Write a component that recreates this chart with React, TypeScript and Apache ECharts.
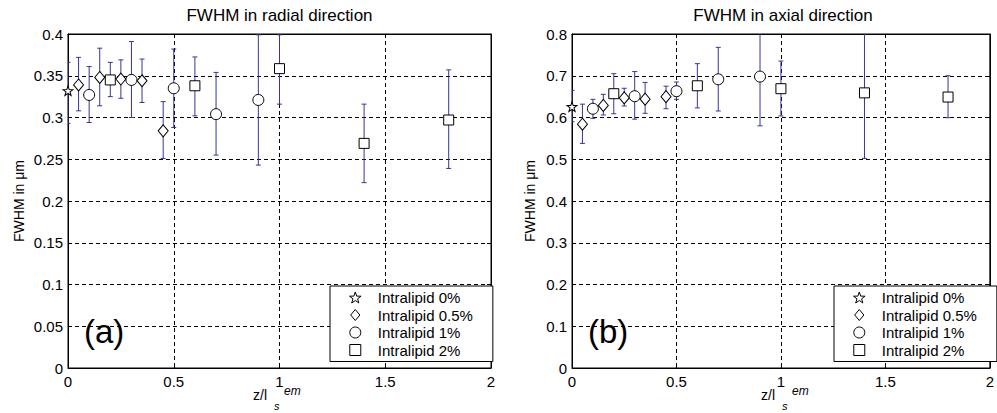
import React, { useEffect, useRef } from "react";
import * as echarts from "echarts";

// ---------- data ----------
const groupNames = ["Intralipid 0%", "Intralipid 0.5%", "Intralipid 1%", "Intralipid 2%"];
const xTickInterval = 0.5;
const radialYInterval = 0.05;
const axialYInterval = 0.1;

// FWHM in radial direction (panel a)
const rad0X = [0];
const rad0Y = [0.332];
const rad0Lo = [0.293];
const rad0Hi = [0.366];

const rad05X = [0.05, 0.15, 0.25, 0.35, 0.45];
const rad05Y = [0.339, 0.348, 0.346, 0.344, 0.284];
const rad05Lo = [0.308, 0.314, 0.323, 0.318, 0.251];
const rad05Hi = [0.372, 0.383, 0.369, 0.370, 0.319];

const rad1X = [0.1, 0.3, 0.5, 0.7, 0.9];
const rad1Y = [0.327, 0.345, 0.335, 0.304, 0.321];
const rad1Lo = [0.294, 0.3, 0.288, 0.255, 0.243];
const rad1Hi = [0.361, 0.391, 0.382, 0.354, 0.399];

const rad2X = [0.2, 0.6, 1.0, 1.4, 1.8];
const rad2Y = [0.345, 0.338, 0.3585, 0.269, 0.297];
const rad2Lo = [0.325, 0.302, 0.316, 0.222, 0.239];
const rad2Hi = [0.366, 0.3725, 0.399, 0.316, 0.357];

// FWHM in axial direction (panel b)
const ax0X = [0];
const ax0Y = [0.626];
const ax0Lo = [0.59];
const ax0Hi = [0.665];

const ax05X = [0.05, 0.15, 0.25, 0.35, 0.45];
const ax05Y = [0.584, 0.629, 0.647, 0.644, 0.65];
const ax05Lo = [0.538, 0.606, 0.6275, 0.61, 0.621];
const ax05Hi = [0.632, 0.6555, 0.67, 0.684, 0.675];

const ax1X = [0.1, 0.3, 0.5, 0.7, 0.9];
const ax1Y = [0.621, 0.651, 0.663, 0.6915, 0.698];
const ax1Lo = [0.598, 0.596, 0.6435, 0.6156, 0.58];
const ax1Hi = [0.6435, 0.71, 0.685, 0.768, 0.83];

const ax2X = [0.2, 0.6, 1.0, 1.4, 1.8];
const ax2Y = [0.657, 0.676, 0.669, 0.659, 0.649];
const ax2Lo = [0.609, 0.623, 0.6036, 0.502, 0.5995];
const ax2Hi = [0.705, 0.729, 0.7353, 0.82, 0.7];

// ---------- styling ----------
const FONT = "'Liberation Sans', Arial, sans-serif";
const ERR = "#36369c";

const starPts: string[] = [];
for (let k = 0; k < 10; k++) {
  const r = k % 2 === 0 ? 50 : 20;
  const a = -Math.PI / 2 + (k * Math.PI) / 5;
  starPts.push(`${(r * Math.cos(a)).toFixed(2)},${(r * Math.sin(a)).toFixed(2)}`);
}
const STAR = "path://M" + starPts.join("L") + "Z";
const DIAMOND = "path://M0,-12L10,0L0,12L-10,0Z";
const SQUARE = "path://M0,0L10,0L10,10L0,10Z";

const symbols = [STAR, DIAMOND, "circle", SQUARE];
const symbolSizes: any[] = [[10, 9.5], [10, 12], 11, 10];

type Group = { x: number[]; y: number[]; lo: number[]; hi: number[] };
const radialGroups: Group[] = [
  { x: rad0X, y: rad0Y, lo: rad0Lo, hi: rad0Hi },
  { x: rad05X, y: rad05Y, lo: rad05Lo, hi: rad05Hi },
  { x: rad1X, y: rad1Y, lo: rad1Lo, hi: rad1Hi },
  { x: rad2X, y: rad2Y, lo: rad2Lo, hi: rad2Hi },
];
const axialGroups: Group[] = [
  { x: ax0X, y: ax0Y, lo: ax0Lo, hi: ax0Hi },
  { x: ax05X, y: ax05Y, lo: ax05Lo, hi: ax05Hi },
  { x: ax1X, y: ax1Y, lo: ax1Lo, hi: ax1Hi },
  { x: ax2X, y: ax2Y, lo: ax2Lo, hi: ax2Hi },
];

function errRender(params: any, api: any) {
  const x = api.value(0);
  const lo = api.value(1);
  const hi = api.value(2);
  const top = api.coord([x, hi]);
  const bot = api.coord([x, lo]);
  const cw = 2.5;
  const st = { stroke: ERR, lineWidth: 1 };
  return {
    type: "group",
    children: [
      { type: "line", shape: { x1: top[0], y1: top[1], x2: bot[0], y2: bot[1] }, style: st },
      { type: "line", shape: { x1: top[0] - cw, y1: top[1], x2: top[0] + cw, y2: top[1] }, style: st },
      { type: "line", shape: { x1: bot[0] - cw, y1: bot[1], x2: bot[0] + cw, y2: bot[1] }, style: st },
    ],
  };
}

function buildSeries(groups: Group[], idx: number) {
  const out: any[] = [];
  groups.forEach((g, i) => {
    out.push({
      type: "custom",
      name: "err" + idx + "_" + i,
      xAxisIndex: idx,
      yAxisIndex: idx,
      renderItem: errRender,
      clip: true,
      z: 2,
      encode: { x: 0, y: [1, 2] },
      data: g.x.map((xv, j) => [xv, g.lo[j], g.hi[j]]),
      silent: true,
    });
  });
  groups.forEach((g, i) => {
    out.push({
      type: "scatter",
      name: groupNames[i],
      xAxisIndex: idx,
      yAxisIndex: idx,
      symbol: symbols[i],
      symbolSize: symbolSizes[i],
      z: 3,
      itemStyle: { color: "#ffffff", borderColor: "#000000", borderWidth: 1, opacity: 1 },
      data: g.x.map((xv, j) => [xv, g.y[j]]),
    });
  });
  return out;
}

function xAxisOpt(gridIndex: number, top = false) {
  return {
    type: "value",
    gridIndex,
    position: top ? "top" : "bottom",
    min: 0,
    max: 2,
    interval: xTickInterval,
    axisLine: { show: true, onZero: false, lineStyle: { color: "#000", width: 1 } },
    axisTick: { show: true, inside: true, length: 4, lineStyle: { color: "#000" } },
    axisLabel: { show: !top, color: "#000", fontSize: 15, fontFamily: FONT, margin: 6 },
    splitLine: { show: !top, lineStyle: { color: "#000", type: [4, 3], width: 1 } },
  };
}

function yAxisOpt(gridIndex: number, max: number, interval: number, gap: number, right = false) {
  return {
    type: "value",
    gridIndex,
    position: right ? "right" : "left",
    min: 0,
    max,
    interval,
    name: right ? "" : "FWHM in μm",
    nameLocation: "middle",
    nameGap: gap,
    nameTextStyle: { color: "#000", fontSize: 14, fontFamily: FONT },
    axisLine: { show: true, onZero: false, lineStyle: { color: "#000", width: 1 } },
    axisTick: { show: true, inside: true, length: 4, lineStyle: { color: "#000" } },
    axisLabel: { show: !right, color: "#000", fontSize: 15, fontFamily: FONT, margin: 5 },
    splitLine: { show: !right, lineStyle: { color: "#000", type: [4, 3], width: 1 } },
  };
}

function legendOpt(left: number) {
  return {
    data: groupNames,
    orient: "vertical",
    left,
    top: 286,
    padding: [4, 20, 4, 19],
    itemGap: 2.5,
    itemWidth: 35,
    itemHeight: 11,
    backgroundColor: "#ffffff",
    borderColor: "#000000",
    borderWidth: 1,
    borderRadius: 0,
    selectedMode: false,
    itemStyle: { color: "#ffffff", borderColor: "#000000", borderWidth: 1 },
    textStyle: { color: "#000", fontSize: 15, fontFamily: FONT },
  };
}

function xNameTexts(offset: number) {
  return [
    { type: "text", left: 253 + offset, top: 388, style: { text: "z/l", font: `14px ${FONT}`, fill: "#000" } },
    { type: "text", left: 274 + offset, top: 400, style: { text: "s", font: `italic 11px ${FONT}`, fill: "#000" } },
    { type: "text", left: 284 + offset, top: 385, style: { text: "em", font: `italic 12px ${FONT}`, fill: "#000" } },
  ];
}

export default function App() {
  const ref = useRef<HTMLDivElement>(null);
  useEffect(() => {
    if (!ref.current) return;
    const chart = echarts.init(ref.current, null, { renderer: "svg" });
    const option: any = {
      animation: false,
      backgroundColor: "#ffffff",
      grid: [
        { left: 68, width: 423, top: 34, height: 334, show: true, borderColor: "#000", borderWidth: 1, containLabel: false },
        { left: 572, width: 422, top: 34, height: 334, show: true, borderColor: "#000", borderWidth: 1, containLabel: false },
      ],
      xAxis: [xAxisOpt(0), xAxisOpt(1), xAxisOpt(0, true), xAxisOpt(1, true)],
      yAxis: [
        yAxisOpt(0, 0.4, radialYInterval, 42),
        yAxisOpt(1, 0.8, axialYInterval, 35),
        yAxisOpt(0, 0.4, radialYInterval, 0, true),
        yAxisOpt(1, 0.8, axialYInterval, 0, true),
      ],
      legend: [legendOpt(330), legendOpt(834)],
      series: [...buildSeries(radialGroups, 0), ...buildSeries(axialGroups, 1)],
      graphic: [
        {
          type: "text",
          x: 279.5,
          y: 15,
          style: { text: "FWHM in radial direction", font: `17px ${FONT}`, fill: "#000", align: "center", verticalAlign: "middle" },
        },
        {
          type: "text",
          x: 783,
          y: 15,
          style: { text: "FWHM in axial direction", font: `17px ${FONT}`, fill: "#000", align: "center", verticalAlign: "middle" },
        },
        {
          type: "text",
          x: 84,
          y: 331,
          z: 10,
          style: { text: "(a)", font: `33px ${FONT}`, fill: "#000", align: "left", verticalAlign: "middle" },
        },
        {
          type: "text",
          x: 588,
          y: 331,
          z: 10,
          style: { text: "(b)", font: `33px ${FONT}`, fill: "#000", align: "left", verticalAlign: "middle" },
        },
        ...xNameTexts(0),
        ...xNameTexts(508),
      ],
    };
    chart.setOption(option);
    return () => chart.dispose();
  }, []);
  return (
    <div
      ref={ref}
      style={{ position: "fixed", left: 0, top: 0, width: 997, height: 413, background: "#fff" }}
    />
  );
}
